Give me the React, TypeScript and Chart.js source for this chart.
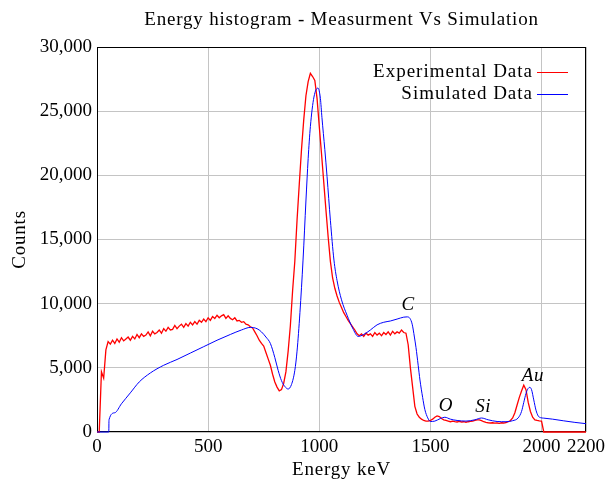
import React, { useEffect, useRef } from "react";
import { Chart, registerables } from "chart.js";
Chart.register(...registerables);

const titleText = "Energy histogram - Measurment Vs Simulation";
const xTitle = "Energy keV";
const yTitle = "Counts";
const xTicks = [0, 500, 1000, 1500, 2000, 2200];
const yTicks = [0, 5000, 10000, 15000, 20000, 25000, 30000];

// Experimental histogram: 10 keV bins starting at 0 keV
const expBinStart = 0;
const expBinWidth = 10;
const expCounts = [
  0, 0, 4700, 4200, 6400, 7050, 6850, 7150, 6900, 7250,
  7000, 7350, 7100, 7250, 7400, 7150, 7450, 7250, 7600, 7350,
  7650, 7450, 7550, 7800, 7500, 7850, 7650, 7750, 7950, 7700,
  8050, 7850, 8150, 7950, 8000, 8300, 8050, 8250, 8400, 8150,
  8450, 8250, 8550, 8350, 8600, 8400, 8700, 8550, 8800, 8600,
  8900, 8700, 9000, 8850, 9100, 8900, 9050, 9150, 8850, 9050,
  8850, 8750, 8900, 8650, 8700, 8550, 8600, 8400, 8350, 8200,
  8100, 7800, 7500, 7150, 6900, 6700, 6200, 5700, 5200, 4500,
  3900, 3500, 3200, 3300, 3800, 4700, 6300, 8300, 11000, 13300,
  16500, 19300, 22000, 24300, 26200, 27300, 27950, 27700, 27400, 26000,
  23800, 21700, 19500, 17300, 15200, 13300, 12000, 11200, 10600, 10100,
  9700, 9300, 9000, 8700, 8450, 8200, 7950, 7650, 7500, 7650,
  7450, 7700, 7550, 7650, 7450, 7750, 7550, 7700, 7500, 7750,
  7600, 7800, 7550, 7850, 7650, 7800, 7700, 7950, 7750, 7700,
  6800, 5000, 3500, 2000, 1400, 1150, 1000, 900, 850, 850,
  900, 1000, 1150, 1250, 1200, 1050, 950, 900, 850, 800,
  850, 800, 780, 820, 780, 800, 760, 800, 820, 850,
  900, 950, 950, 880, 800, 750, 720, 700, 720, 690,
  700, 680, 720, 700, 740, 800, 900, 1100, 1500, 2100,
  2700, 3200, 3650, 3300, 2300, 1600, 1150, 950, 900, 870,
  850, 0, 0, 0, 0, 0, 0, 0, 0, 0,
  0, 0, 0, 0, 0, 0, 0, 0, 0, 0,
  0,
];

// Simulated spectrum
const simEnergy = [
  0, 53, 54, 80, 110, 150, 190, 240, 300, 360, 420, 480, 540, 600, 650, 690,
  720, 740, 760, 780, 800, 815, 830, 845, 860, 875, 890, 900, 913, 927, 940,
  950, 960, 976, 994, 1005, 1012, 1025, 1035, 1050, 1066, 1080, 1100, 1125,
  1150, 1175, 1200, 1230, 1260, 1290, 1320, 1350, 1380, 1395, 1408, 1418,
  1428, 1435, 1445, 1453, 1465, 1475, 1488, 1500, 1520, 1545, 1565, 1590,
  1620, 1660, 1700, 1730, 1760, 1800, 1840, 1870, 1895, 1910, 1920, 1930,
  1940, 1947, 1955, 1965, 1975, 1985, 1995, 2010, 2050, 2100, 2150, 2200,
];
const simCounts = [
  0, 0, 950, 1500, 2200, 3050, 3900, 4600, 5200, 5650, 6150, 6650, 7150, 7600, 7950, 8150,
  8050, 7800, 7400, 6900, 5800, 4800, 4000, 3550, 3350, 3700, 4800, 6300, 9300, 13400, 18000,
  21300, 23800, 26100, 26800, 26000, 24500, 22000, 19900, 16500, 13400, 11800, 10300, 9100,
  8100, 7450, 7600, 7950, 8350, 8550, 8650, 8800, 8950, 8970, 8850, 8400,
  7400, 6600, 5200, 4050, 2700, 1750, 1100, 820, 850, 1050, 1150, 1000,
  900, 850, 950, 1090, 950, 820, 800, 880, 1100, 1600, 2300, 3000,
  3400, 3480, 3300, 2500, 1700, 1250, 1120, 1080, 1000, 870, 750, 650,
];

const peakNames = ["C", "O", "Si", "Au"];
const peakEnergy = [1400, 1570, 1737, 1961];
const peakCounts = [9900, 2000, 1950, 4360];

const FONT = "'Liberation Serif', 'Times New Roman', serif";

export default function App() {
  const ref = useRef<HTMLCanvasElement>(null);
  useEffect(() => {
    document.body.style.margin = "0";
    const canvas = ref.current!;
    const expData = expCounts.map((c, i) => ({ x: expBinStart + i * expBinWidth, y: c }));
    const simData = simEnergy.map((e, i) => ({ x: e, y: simCounts[i] }));

    const overlay = {
      id: "overlay",
      beforeDatasetsDraw(chart: any) {
        const { ctx, chartArea: a } = chart;
        ctx.save();
        ctx.strokeStyle = "#000";
        ctx.lineWidth = 1;
        const l = Math.round(a.left) + 0.5;
        const t = Math.round(a.top) + 0.5;
        const r = Math.round(a.right) - 0.5;
        const b = Math.round(a.bottom) - 0.5;
        ctx.strokeRect(l, t, r - l, b - t);
        ctx.restore();
      },
      afterDraw(chart: any) {
        const { ctx, chartArea: a, scales } = chart;
        ctx.save();
        ctx.fillStyle = "#000";
        ctx.font = `19px ${FONT}`;
        (ctx as any).letterSpacing = "0.8px";
        ctx.textAlign = "center";
        ctx.textBaseline = "middle";
        const cx = (a.left + a.right) / 2;
        ctx.fillText(titleText, cx, 20);
        ctx.fillText(xTitle, cx, 470);
        ctx.save();
        ctx.translate(20, (a.top + a.bottom) / 2);
        ctx.rotate(-Math.PI / 2);
        ctx.fillText(yTitle, 0, 0);
        ctx.restore();

        // legend
        const ds = chart.data.datasets;
        ctx.textAlign = "right";
        (ctx as any).letterSpacing = "1px";
        ds.forEach((d: any, i: number) => {
          const y = a.top + 25 + i * 22;
          const lineEnd = a.right - 18;
          const lineStart = lineEnd - 31;
          ctx.fillStyle = "#000";
          ctx.fillText(d.label, lineStart - 4, y);
          ctx.strokeStyle = d.borderColor;
          ctx.lineWidth = 1;
          ctx.beginPath();
          ctx.moveTo(lineStart, Math.round(y) + 0.5);
          ctx.lineTo(lineEnd, Math.round(y) + 0.5);
          ctx.stroke();
        });

        // peak annotations
        (ctx as any).letterSpacing = "0.5px";
        ctx.font = `italic 19px ${FONT}`;
        ctx.textAlign = "center";
        ctx.fillStyle = "#000";
        peakNames.forEach((n, i) => {
          ctx.fillText(n, scales.x.getPixelForValue(peakEnergy[i]), scales.y.getPixelForValue(peakCounts[i]));
        });
        ctx.restore();
      },
    };

    const chart = new Chart(canvas, {
      type: "line",
      data: {
        datasets: [
          {
            label: "Experimental Data",
            data: expData,
            borderColor: "#ff0000",
            borderWidth: 1.3,
            pointRadius: 0,
            tension: 0,
            order: 2,
            clip: 2,
          },
          {
            label: "Simulated Data",
            data: simData,
            borderColor: "#0000ff",
            borderWidth: 1,
            pointRadius: 0,
            cubicInterpolationMode: "monotone",
            order: 1,
            clip: 2,
          },
        ],
      },
      options: {
        responsive: false,
        animation: false,
        parsing: false as any,
        layout: { padding: { top: 47, right: 19, left: 0, bottom: 0 } },
        plugins: { legend: { display: false }, tooltip: { enabled: false }, title: { display: false } },
        scales: {
          x: {
            type: "linear",
            min: 0,
            max: 2200,
            afterBuildTicks: (s: any) => {
              s.ticks = xTicks.map((v) => ({ value: v }));
            },
            afterFit: (s: any) => {
              s.height = 49;
              s.paddingLeft = 0;
              s.paddingRight = 0;
            },
            ticks: {
              font: { family: FONT, size: 19 },
              color: "#000",
              padding: 4,
              maxRotation: 0,
              autoSkip: false,
              callback: (v: any) => String(v),
            },
            grid: { color: "#c4c4c4", drawTicks: false, lineWidth: 1 },
            border: { display: false },
          },
          y: {
            type: "linear",
            min: 0,
            max: 30000,
            afterBuildTicks: (s: any) => {
              s.ticks = yTicks.map((v) => ({ value: v }));
            },
            afterFit: (s: any) => {
              s.width = 97;
              s.paddingTop = 0;
              s.paddingBottom = 0;
            },
            ticks: {
              font: { family: FONT, size: 19 },
              color: "#000",
              padding: 5,
              autoSkip: false,
              callback: (v: any) => Number(v).toLocaleString("en-US"),
            },
            grid: { color: "#c4c4c4", drawTicks: false, lineWidth: 1 },
            border: { display: false },
          },
        },
      },
      plugins: [overlay],
    });
    return () => chart.destroy();
  }, []);
  return (
    <div style={{ width: 605, height: 481, background: "#fff" }}>
      <canvas ref={ref} width={605} height={481} style={{ display: "block" }} />
    </div>
  );
}
